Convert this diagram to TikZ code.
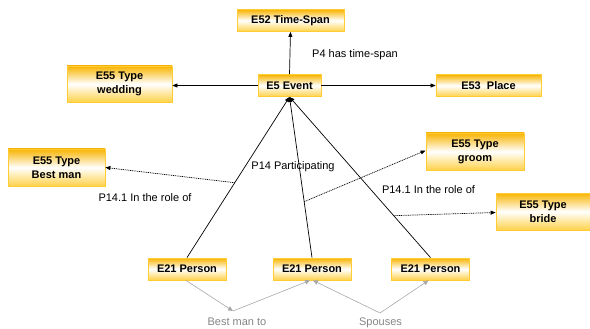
\documentclass[tikz,border=0pt]{standalone}
\usepackage{fontspec}
\setmainfont{Liberation Sans}
\usetikzlibrary{arrows.meta,calc}
\definecolor{boxtop}{HTML}{F8B400}
\definecolor{boxbot}{HTML}{FFD24A}
\definecolor{boxline}{HTML}{FFCC33}
\definecolor{graytxt}{HTML}{858585}
\definecolor{grayline}{HTML}{A8A8A8}
\tikzset{
  cbox/.style={draw=boxline, line width=0.8pt, top color=boxtop, bottom color=boxbot, middle color=white,
    font=\fontsize{11}{14}\selectfont\bfseries, align=center, inner sep=2pt, minimum height=22pt},
  lbl/.style={font=\fontsize{11}{13}\selectfont, inner sep=0pt},
  glbl/.style={lbl, text=graytxt},
  arr/.style={line width=0.7pt, -{Triangle[length=5pt,width=4pt]}},
  darr/.style={line width=0.7pt, dash pattern=on 1pt off 0.8pt, -{Triangle[length=5pt,width=4pt]}},
  garr/.style={line width=0.6pt, draw=grayline, -{Triangle[length=5pt,width=4.5pt,fill=grayline]}},
  gline/.style={line width=0.6pt, draw=grayline}
}
\begin{document}
\begin{tikzpicture}[x=1pt,y=-1pt]
\useasboundingbox (0,0) rectangle (590,329);
\node[cbox, minimum width=107pt] (ts) at (290.5,20.5) {E52 Time-Span};
\node[cbox, minimum width=63pt] (ev) at (289.5,85.5) {E5 Event};
\node[cbox, minimum width=105pt, minimum height=36pt] (wed) at (119.5,84) {E55 Type\\wedding};
\node[cbox, minimum width=105pt] (pl) at (488.5,85.5) {E53\ \ Place};
\node[cbox, minimum width=97pt, minimum height=37pt] (bm) at (56.5,167.5) {E55 Type\\Best man};
\node[cbox, minimum width=98pt, minimum height=37pt] (gr) at (475,151.5) {E55 Type\\groom};
\node[cbox, minimum width=94pt, minimum height=37pt] (br) at (543,211.5) {E55 Type\\bride};
\node[cbox, minimum width=78pt] (p1) at (187,269) {E21 Person};
\node[cbox, minimum width=78pt] (p2) at (312,269) {E21 Person};
\node[cbox, minimum width=78pt] (p3) at (430.5,269) {E21 Person};

\node[lbl] (l4) at (355,55) {P4 has time-span};
\node[lbl] (l14) at (293,167) {P14 Participating};
\node[lbl] (lr1) at (145,198) {P14.1 In the role of};
\node[lbl] (lr2) at (428.5,190) {P14.1 In the role of};
\node[glbl] (lbm) at (237,322) {Best man to};
\node[glbl] (lsp) at (380.5,323) {Spouses};

\draw[arr] (ev.north) -- (ts.south);
\draw[arr] (ev.west) -- (wed.east |- ev.west);
\draw[arr] (ev.east) -- (pl.west);
\draw[arr] (p1.north) -- (ev.south);
\draw[arr] (p2.north) -- (ev.south);
\draw[arr] (p3.north) -- (ev.south);

\coordinate (s1) at ($(p1.north)!0.466!(ev.south)$);
\coordinate (s2) at ($(p2.north)!0.348!(ev.south)$);
\coordinate (s3) at ($(p3.north)!0.261!(ev.south)$);
\draw[darr] (s1) -- (bm.east);
\draw[darr] (s2) -- ([yshift=1pt]gr.west);
\draw[darr] (s3) -- ([yshift=-1pt]br.west);

\coordinate (cbm) at (233,311);
\coordinate (csp) at (380,313);
\draw[garr] ([xshift=-1pt]p1.south) -- (cbm);
\draw[garr] (cbm) -- ([xshift=-2pt]p2.south);
\draw[garr] (csp) -- ([xshift=1pt]p2.south);
\draw[garr] (csp) -- ([xshift=-2pt]p3.south);
\end{tikzpicture}
\end{document}
